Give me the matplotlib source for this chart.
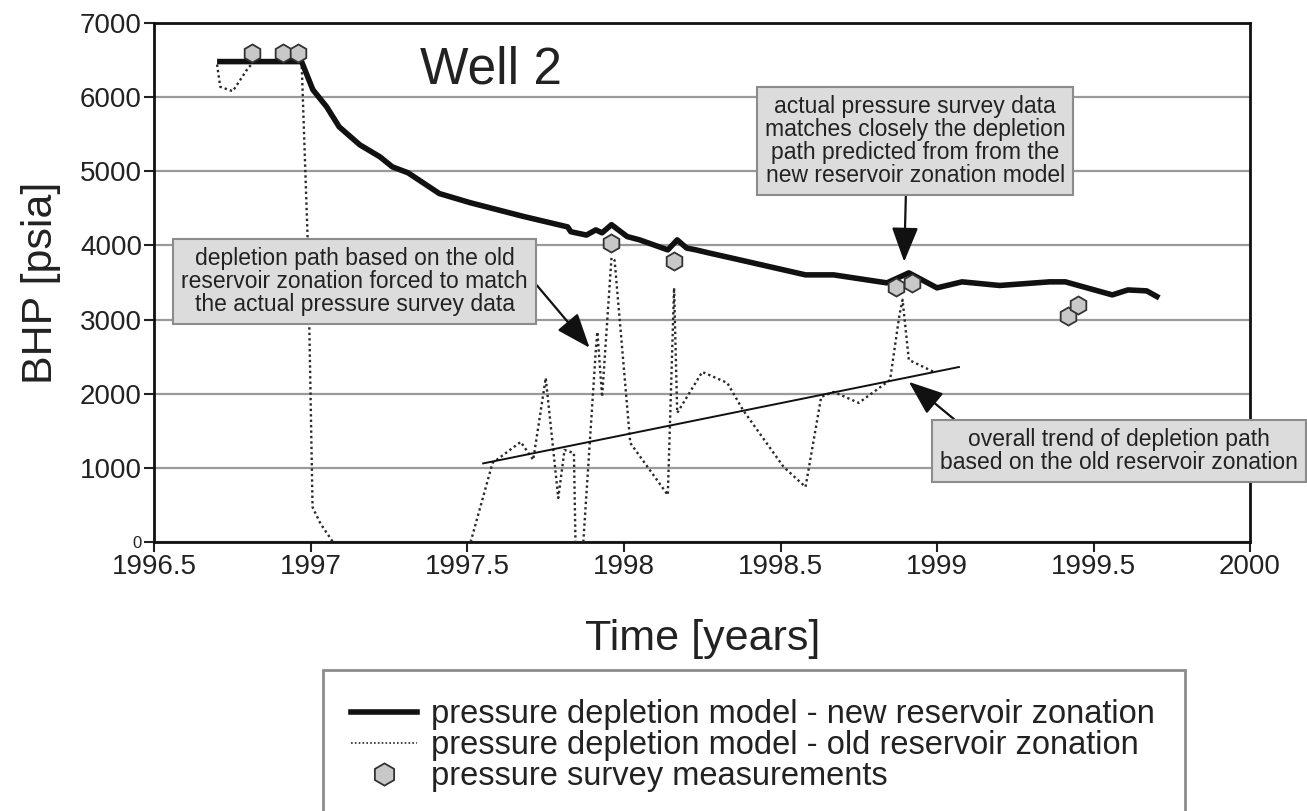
import numpy as np
import matplotlib.pyplot as plt
from matplotlib.patches import Rectangle
from matplotlib.lines import Line2D

plt.rcParams['font.family'] = ['Liberation Sans', 'DejaVu Sans']

# === data ===
new_t = [1996.70, 1996.97, 1997.006, 1997.05, 1997.09, 1997.156, 1997.22, 1997.26, 1997.31,
         1997.41, 1997.51, 1997.68, 1997.79, 1997.82, 1997.83, 1997.88, 1997.91, 1997.93,
         1997.96, 1998.01, 1998.05, 1998.14, 1998.17, 1998.20, 1998.23, 1998.27, 1998.37,
         1998.58, 1998.67, 1998.84, 1998.91, 1999.00, 1999.08, 1999.20, 1999.36, 1999.41,
         1999.56, 1999.61, 1999.67, 1999.71]
new_p = [6480, 6480, 6100, 5870, 5600, 5357, 5196, 5060, 4980,
         4700, 4575, 4390, 4280, 4250, 4185, 4140, 4210, 4170,
         4280, 4120, 4075, 3940, 4075, 3965, 3940, 3900, 3805,
         3603, 3603, 3495, 3630, 3428, 3509, 3460, 3509, 3509,
         3333, 3400, 3387, 3293]

# nan = curve leaves the plot below 0
old_t = [1996.70, 1996.71, 1996.75, 1996.80, 1996.82, 1996.97, 1996.99, 1997.005, 1997.03, 1997.07, np.nan,
         1997.51, 1997.58, 1997.67, 1997.71, 1997.75, 1997.79, 1997.81, 1997.84, 1997.845, np.nan,
         1997.87, 1997.91, 1997.915, 1997.93, 1997.96, 1997.97, 1998.02, 1998.14, 1998.16, 1998.17,
         1998.25, 1998.33, 1998.38, 1998.51, 1998.58, 1998.63, 1998.67, 1998.75, 1998.85, 1998.88,
         1998.89, 1998.91, 1998.99]
old_p = [6440, 6140, 6080, 6400, 6480, 6480, 4000, 470, 250, 0, np.nan,
         0, 1066, 1350, 1107, 2213, 594, 1242, 1200, 0, np.nan,
         0, 2591, 2834, 1957, 3833, 3800, 1336, 634, 3428, 1741,
         2294, 2146, 1781, 1012, 742, 1957, 2024, 1876, 2186, 3063,
         3266, 2456, 2294]

survey_t = [1996.81, 1996.91, 1996.96, 1997.96, 1998.16, 1998.87, 1998.92, 1999.42, 1999.45]
survey_p = [6590, 6590, 6590, 4035, 3792, 3441, 3495, 3050, 3198]

trend_t = [1997.55, 1999.07]
trend_p = [1060, 2360]

xticks = [1996.5, 1997, 1997.5, 1998, 1998.5, 1999, 1999.5, 2000]
xticklabels = ['1996.5', '1997', '1997.5', '1998', '1998.5', '1999', '1999.5', '2000']
yticks = [0, 1000, 2000, 3000, 4000, 5000, 6000, 7000]

lbl_new = 'pressure depletion model - new reservoir zonation'
lbl_old = 'pressure depletion model - old reservoir zonation'
lbl_survey = 'pressure survey measurements'

note_new = ('actual pressure survey data\nmatches closely the depletion\n'
            'path predicted from from the\nnew reservoir zonation model')
note_old = ('depletion path based on the old\nreservoir zonation forced to match\n'
            'the actual pressure survey data')
note_trend = 'overall trend of depletion path\nbased on the old reservoir zonation'

# === figure ===
fig = plt.figure(figsize=(13.07, 8.11), dpi=100)
ax = fig.add_axes([0.1182, 0.3317, 0.9564 - 0.1182, 0.9716 - 0.3317])

ax.set_xlim(1996.5, 2000)
ax.set_ylim(0, 7000)
ax.yaxis.grid(True, color='#9a9a9a', linewidth=1.6)
ax.set_axisbelow(True)

ax.plot(old_t, old_p, color='#2a2a2a', linestyle=(0, (1, 1.3)), linewidth=1.7, zorder=3)
ax.plot(trend_t, trend_p, color='#111111', linewidth=1.4, zorder=3)
ax.plot(new_t, new_p, color='#111111', linewidth=4, solid_capstyle='butt', zorder=4)
ax.plot(survey_t, survey_p, linestyle='none', marker='h', markersize=13,
        markerfacecolor='#c8c8c8', markeredgecolor='#333333', markeredgewidth=1.3, zorder=5)

ax.set_xticks(xticks)
ax.set_xticklabels(xticklabels)
ax.set_yticks(yticks)
ax.tick_params(axis='both', direction='out', length=7, width=1.5, labelsize=20, pad=2,
               color='#222222', labelcolor='#222222')
ax.get_yticklabels()[0].set_fontsize(12)
for s in ax.spines.values():
    s.set_linewidth(2)
    s.set_color('#111111')

ax.set_xlabel('Time [years]', fontsize=31, color='#222222', labelpad=28)
ax.set_ylabel('BHP [psia]', fontsize=31, color='#222222', labelpad=14)

ax.text(1997.575, 6360, 'Well 2', fontsize=37, ha='center', va='center', color='#222222')

box = dict(boxstyle='square,pad=0.35', facecolor='#dcdcdc', edgecolor='#8c8c8c', linewidth=1.5)
arrow = dict(arrowstyle='-|>,head_length=1.3,head_width=0.5', color='#111111', lw=1.6,
             shrinkA=0, shrinkB=0)

ax.annotate(note_new, xy=(1998.895, 3780), xytext=(1998.93, 5405), fontsize=16.5,
            ha='center', va='center', linespacing=1.0, color='#222222', bbox=box,
            arrowprops=dict(arrow, relpos=(0.47, 0)), annotation_clip=False, zorder=6)
ax.annotate(note_old, xy=(1997.89, 2620), xytext=(1997.14, 3509), fontsize=16.5,
            ha='center', va='center', linespacing=1.0, color='#222222', bbox=box,
            arrowprops=dict(arrow, relpos=(1.0, 0.6)), annotation_clip=False, zorder=6)
ax.annotate(note_trend, xy=(1998.91, 2160), xytext=(1999.58, 1228), fontsize=16.5,
            ha='center', va='center', linespacing=1.0, color='#222222', bbox=box,
            arrowprops=dict(arrow, relpos=(0.07, 1.0)), annotation_clip=False, zorder=6)

# legend box (runs off the bottom edge)
fig.patches.append(Rectangle((323 / 1307, -0.05), (1185 - 323) / 1307, 0.05 + 1 - 670 / 811,
                             transform=fig.transFigure, facecolor='white',
                             edgecolor='#8c8c8c', linewidth=2))
handles = [
    Line2D([], [], color='#111111', linewidth=4),
    Line2D([], [], color='#2a2a2a', linestyle=(0, (1, 1.3)), linewidth=1.2),
    Line2D([], [], linestyle='none', marker='h', markersize=16,
           markerfacecolor='#c8c8c8', markeredgecolor='#333333', markeredgewidth=1.3),
]
fig.legend(handles, [lbl_new, lbl_old, lbl_survey], loc='upper left',
           bbox_to_anchor=(335 / 1307, 1 - 683 / 811), frameon=False, fontsize=23.5,
           handlelength=2.0, handletextpad=0.45, labelspacing=0.0, borderpad=0,
           labelcolor='#222222')

fig.savefig('out.png', dpi=100)
